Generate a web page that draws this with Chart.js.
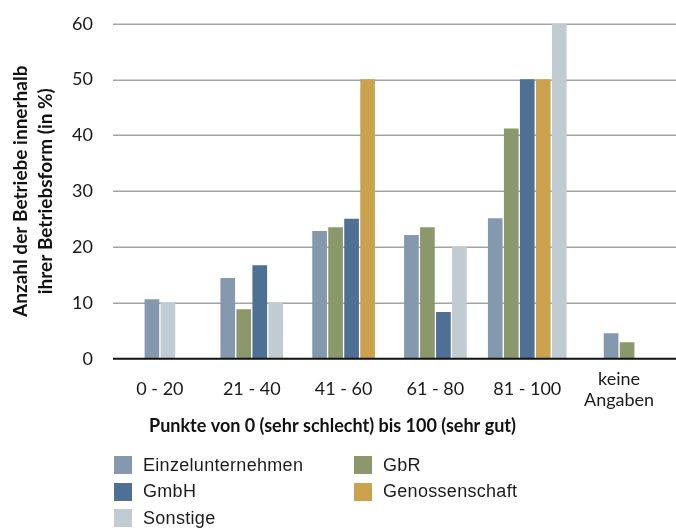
<!DOCTYPE html>
<html lang="de">
<head>
<meta charset="utf-8">
<title>Betriebe nach Punkten</title>
<script src="https://cdn.jsdelivr.net/npm/chart.js@4/dist/chart.umd.min.js"></script>
<style>
  html, body { margin: 0; padding: 0; background: #fff; }
  #wrap { position: relative; width: 676px; height: 532px; }
  #legend {
    position: absolute; left: 114px; top: 452px;
    display: grid; grid-template-columns: 240px 240px;
    font: 18px 'Liberation Sans', Arial, sans-serif; letter-spacing: 0.3px; color: #1c1c1c;
  }
  #legend .item { display: flex; align-items: center; height: 26.5px; }
  #legend .box { width: 18px; height: 18px; margin-right: 11px; flex: none; }
</style>
</head>
<body>
<div id="wrap">
  <canvas id="chart" width="676" height="532"></canvas>
  <div id="legend"></div>
</div>
<script>
// Score bands (x axis)
const categories = ['0 - 20', '21 - 40', '41 - 60', '61 - 80', '81 - 100', ['keine', 'Angaben']];

// Share of farms within each legal form (in %); null = no farms in that band
const einzelunternehmen = [10.6, 14.4, 22.8, 22.1, 25.1, 4.5];
const gbr               = [null, 8.8, 23.5, 23.5, 41.2, 2.9];
const gmbh              = [null, 16.7, 25.0, 8.3, 50.0, null];
const genossenschaft    = [null, null, 50.0, null, 50.0, null];
const sonstige          = [10.0, 10.0, null, 20.0, 60.0, null];

// Value axis
const yMin = 0, yMax = 60, yStep = 10;

const seriesNames = ['Einzelunternehmen', 'GbR', 'GmbH', 'Genossenschaft', 'Sonstige'];
const seriesColors = ['#8599ae', '#8a986c', '#4e7094', '#cba34f', '#c1cbd2'];
const seriesValues = [einzelunternehmen, gbr, gmbh, genossenschaft, sonstige];

const face = "Lato, 'DejaVu Sans Condensed', sans-serif";

// Horizontal value lines running out to the right edge, plus the black base line
const valueLines = {
  id: 'valueLines',
  beforeDatasetsDraw(chart) {
    const { ctx, chartArea, scales: { y } } = chart;
    ctx.save();
    ctx.strokeStyle = '#a3a3a3';
    ctx.lineWidth = 1.5;
    y.ticks.forEach(t => {
      if (t.value === yMin) return;
      const py = Math.round(y.getPixelForValue(t.value)) + 0.25;
      ctx.beginPath();
      ctx.moveTo(chartArea.left - 1, py);
      ctx.lineTo(chart.width, py);
      ctx.stroke();
    });
    ctx.restore();
  },
  afterDatasetsDraw(chart) {
    const { ctx, chartArea, scales: { y } } = chart;
    const py = y.getPixelForValue(yMin);
    ctx.save();
    ctx.strokeStyle = '#111';
    ctx.lineWidth = 2;
    ctx.beginPath();
    ctx.moveTo(chartArea.left - 1, py);
    ctx.lineTo(chart.width, py);
    ctx.stroke();
    ctx.restore();
  }
};

const chart = new Chart(document.getElementById('chart'), {
  type: 'bar',
  data: {
    labels: categories,
    datasets: seriesNames.map((name, i) => ({
      label: name,
      data: seriesValues[i],
      backgroundColor: seriesColors[i],
      skipNull: true,
      barThickness: 16,
      maxBarThickness: 14,
      borderWidth: 0
    }))
  },
  plugins: [valueLines],
  options: {
    responsive: false,
    animation: false,
    layout: { padding: { top: 23, right: 11, bottom: 94, left: 0 } },
    plugins: {
      legend: { display: false },
      tooltip: { enabled: false },
      title: {
        display: true,
        position: 'bottom',
        align: 'center',
        text: 'Punkte von 0 (sehr schlecht) bis 100 (sehr gut)',
        color: '#111',
        font: { family: face, size: 18, weight: 'bold', lineHeight: 1.35 },
        padding: { top: 0, bottom: 0 }
      }
    },
    scales: {
      x: {
        grid: { display: false },
        border: { display: false },
        ticks: {
          color: '#1a1a1a',
          font: { family: face, size: 18, lineHeight: 1.2 },
          padding: 12,
          crossAlign: 'center',
          maxRotation: 0,
          autoSkip: false
        },
        afterFit(scale) { scale.height = 55; }
      },
      y: {
        min: yMin,
        max: yMax,
        grid: { display: false },
        border: { display: false },
        ticks: {
          stepSize: yStep,
          color: '#1a1a1a',
          font: { family: face, size: 18 },
          padding: 13
        },
        title: {
          display: true,
          text: ['Anzahl der Betriebe innerhalb', 'ihrer Betriebsform (in %)'],
          color: '#111',
          font: { family: face, size: 19, weight: 'bold', lineHeight: 1.29 },
          padding: { top: 9, bottom: 0 }
        },
        afterFit(scale) { scale.width = 114; }
      }
    }
  }
});

// Legend as a two-column grid, built from the chart's datasets
const legendEl = document.getElementById('legend');
chart.data.datasets.forEach(ds => {
  const item = document.createElement('div');
  item.className = 'item';
  const box = document.createElement('span');
  box.className = 'box';
  box.style.background = ds.backgroundColor;
  const text = document.createElement('span');
  text.textContent = ds.label;
  item.appendChild(box);
  item.appendChild(text);
  legendEl.appendChild(item);
});
</script>
</body>
</html>
